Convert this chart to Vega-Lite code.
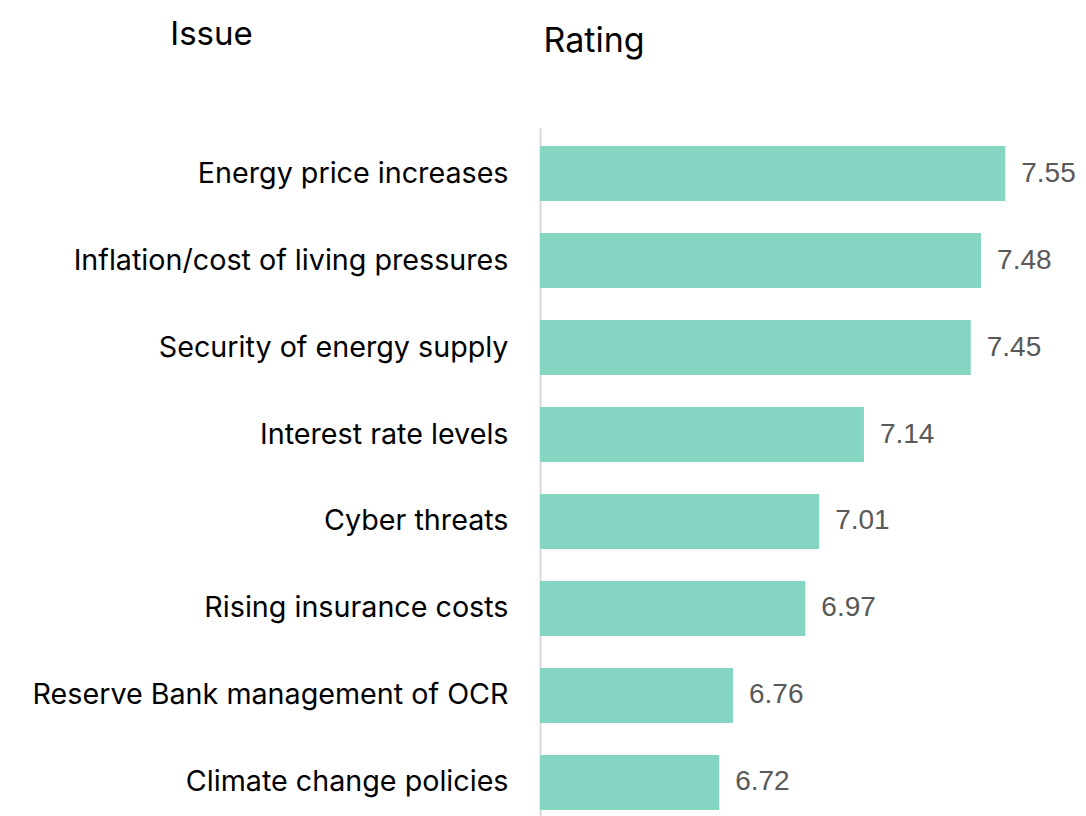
{
  "$schema": "https://vega.github.io/schema/vega-lite/v6.json",
  "autosize": "none",
  "width": 520,
  "height": 700,
  "padding": {"left": 540, "top": 128, "right": 26, "bottom": 0},
  "background": "white",
  "config": {"view": {"stroke": null}},
  "data": {
    "values": [
      {"issue": "Energy price increases", "rating": 7.55},
      {"issue": "Inflation/cost of living pressures", "rating": 7.48},
      {"issue": "Security of energy supply", "rating": 7.45},
      {"issue": "Interest rate levels", "rating": 7.14},
      {"issue": "Cyber threats", "rating": 7.01},
      {"issue": "Rising insurance costs", "rating": 6.97},
      {"issue": "Reserve Bank management of OCR", "rating": 6.76},
      {"issue": "Climate change policies", "rating": 6.72}
    ]
  },
  "encoding": {
    "y": {
      "field": "issue",
      "type": "nominal",
      "sort": null,
      "scale": {"paddingInner": 0.367, "paddingOuter": 0.207},
      "axis": {
        "title": "Issue",
        "titleAngle": 0,
        "titleAlign": "center",
        "titleBaseline": "alphabetic",
        "titleX": -329,
        "titleY": -84,
        "titleFont": "Inter",
        "titleFontSize": 33,
        "titleFontWeight": "normal",
        "titleColor": "#000000",
        "labelFont": "Inter",
        "labelFontSize": 28.7,
        "labelColor": "#000000",
        "labelPadding": 32,
        "labelLimit": 600,
        "ticks": false,
        "domain": true,
        "domainColor": "#D9D9D9",
        "domainWidth": 2,
        "grid": false
      }
    },
    "x": {
      "field": "rating",
      "type": "quantitative",
      "scale": {"domain": [6.2, 7.709], "zero": false, "nice": false},
      "axis": {
        "orient": "top",
        "title": "Rating",
        "titleAlign": "left",
        "titleBaseline": "alphabetic",
        "titleX": 3,
        "titleY": -77,
        "titleFont": "Inter",
        "titleFontSize": 34,
        "titleFontWeight": "normal",
        "titleColor": "#000000",
        "labels": false,
        "ticks": false,
        "domain": false,
        "grid": false
      }
    }
  },
  "layer": [
    {
      "mark": {"type": "bar", "color": "#84D6C3"},
      "encoding": {"x2": {"datum": 6.2}}
    },
    {
      "mark": {
        "type": "text",
        "align": "left",
        "baseline": "middle",
        "dx": 16,
        "font": "Liberation Sans",
        "fontSize": 28,
        "color": "#595959"
      },
      "encoding": {"text": {"field": "rating", "type": "quantitative", "format": ".2f"}}
    }
  ]
}
